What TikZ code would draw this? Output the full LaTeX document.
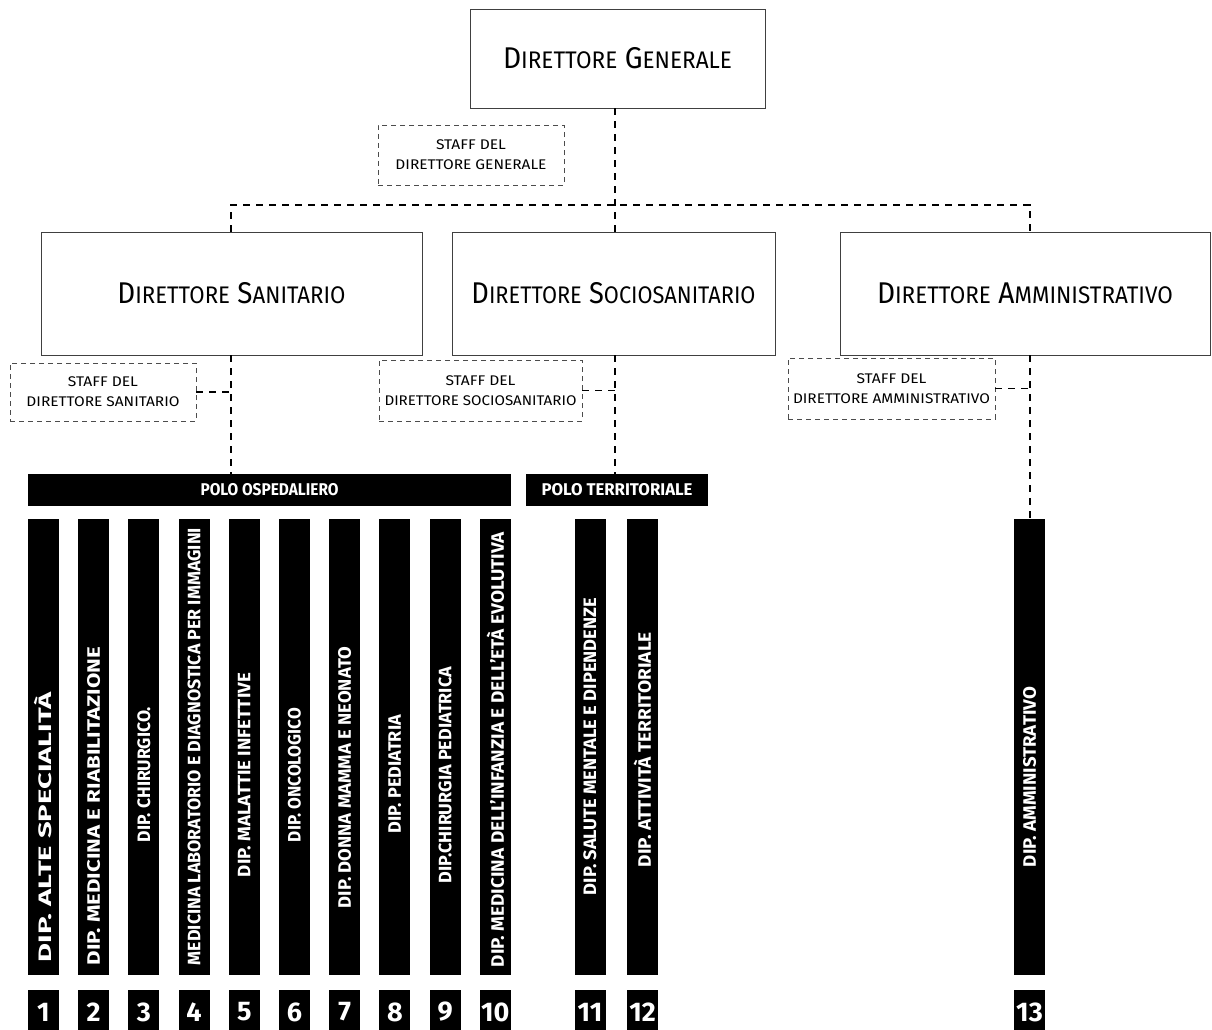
\documentclass[tikz,border=0pt]{standalone}
\usepackage{fontspec}
\setmainfont{Fira Sans}
\usepackage{graphicx}
\usetikzlibrary{calc}
\newcommand\fitto[2]{\resizebox{#1pt}{\height}{#2}}
\newcommand\smc[2]{{\fontsize{30}{30}\selectfont #1}{\fontsize{24}{24}\selectfont #2}}
\newcommand\tsp{\hspace{8pt}}
\begin{document}
\begin{tikzpicture}[x=1pt,y=-1pt,
  mainbox/.style={draw=black!75, line width=0.9pt, inner sep=0pt, minimum height=123pt},
  staffbox/.style={draw=black!70, line width=0.8pt, dash pattern=on 5pt off 4pt, inner sep=0pt,
     align=center, font=\fontsize{14}{20}\selectfont},
  conn/.style={draw=black, line width=1.3pt, dash pattern=on 7pt off 6pt},
  polo/.style={fill=black, inner sep=0pt, minimum height=32pt, text=white,
     font=\fontsize{17}{17}\selectfont\bfseries},
  bar/.style={fill=black, inner sep=0pt, minimum width=31pt, minimum height=456pt},
  bartxt/.style={text=white, inner sep=0pt, rotate=90, font=\fontsize{18}{18}\selectfont\bfseries},
  numbox/.style={fill=black, inner sep=0pt, minimum width=31pt, minimum height=44pt, text=white,
     font=\fontsize{27}{27}\selectfont\bfseries}]
\useasboundingbox[fill=white] (0,0) rectangle (1212,1030);

% top level
\node[mainbox, minimum width=295pt, minimum height=99pt] (dg) at (617.5,58.5)
  {\fitto{229}{\smc{D}{IRETTORE}\tsp\smc{G}{ENERALE}}};
\node[staffbox, minimum width=186pt, minimum height=60pt] (sdg) at (471,155)
  {\fitto{70}{STAFF DEL}\\\fitto{151}{DIRETTORE GENERALE}};

% directors
\node[mainbox, minimum width=381pt] (ds) at (231.5,293.5)
  {\fitto{228}{\smc{D}{IRETTORE}\tsp\smc{S}{ANITARIO}}};
\node[mainbox, minimum width=323pt] (dss) at (613.5,293.5)
  {\fitto{284}{\smc{D}{IRETTORE}\tsp\smc{S}{OCIOSANITARIO}}};
\node[mainbox, minimum width=370pt] (da) at (1025,293.5)
  {\fitto{296}{\smc{D}{IRETTORE}\tsp\smc{A}{MMINISTRATIVO}}};

% staff boxes
\node[staffbox, minimum width=186pt, minimum height=58pt] (sds) at (103,392)
  {\fitto{70}{STAFF DEL}\\\fitto{153}{DIRETTORE SANITARIO}};
\node[staffbox, minimum width=203pt, minimum height=61pt] (sdss) at (480.5,390.5)
  {\fitto{70}{STAFF DEL}\\\fitto{192}{DIRETTORE SOCIOSANITARIO}};
\node[staffbox, minimum width=207pt, minimum height=61pt] (sda) at (891.5,388.5)
  {\fitto{70}{STAFF DEL}\\\fitto{197}{DIRETTORE AMMINISTRATIVO}};

% poli
\node[polo, minimum width=483pt] (posp) at (269.5,490) {\fitto{138}{POLO OSPEDALIERO}};
\node[polo, minimum width=182pt] (pter) at (617,490) {\fitto{151}{POLO TERRITORIALE}};

% departments
\foreach \i/\L/\c/\t in {
  1/270/827/{DIP. ALTE SPECIALITÀ},
  2/318/806/{DIP. MEDICINA E RIABILITAZIONE},
  3/135/774.5/{DIP. CHIRURGICO.},
  4/437/746.5/{MEDICINA LABORATORIO E DIAGNOSTICA PER IMMAGINI},
  5/204/775/{DIP. MALATTIE INFETTIVE},
  6/134/775/{DIP. ONCOLOGICO},
  7/261/777.5/{DIP. DONNA MAMMA E NEONATO},
  8/118/774/{DIP. PEDIATRIA},
  9/216/775/{DIP.CHIRURGIA PEDIATRICA},
  10/435/749.5/{DIP. MEDICINA DELL'INFANZIA E DELL'ETÀ EVOLUTIVA}}{
  \pgfmathsetmacro\xx{43.5+50.2*(\i-1)}
  \node[bar] (b\i) at (\xx,747) {};
  \node[bartxt] (bt\i) at (\xx,\c) {\fitto{\L}{\t}};
  \node[numbox] (n\i) at (\xx,1012) {\i};
}
\foreach \i/\xx/\L/\c/\t in {
  11/590/297/746.5/{DIP. SALUTE MENTALE E DIPENDENZE},
  12/642.5/235/749.5/{DIP. ATTIVITÀ TERRITORIALE},
  13/1029.5/180/777/{DIP. AMMINISTRATIVO}}{
  \node[bar] (b\i) at (\xx,747) {};
  \node[bartxt] (bt\i) at (\xx,\c) {\fitto{\L}{\t}};
  \node[numbox] (n\i) at (\xx,1012) {\i};
}

% connectors
\coordinate (hl) at (0,205);
\coordinate (ta) at (231,0);
\coordinate (tb) at (615,0);
\coordinate (tc) at (1030,0);
\draw[conn] (dg.south -| tb) -- (dss.north -| tb);
\draw[conn] (ds.north -| ta) -- (ta |- hl) -- (tc |- hl) -- (da.north -| tc);
\draw[conn] (ds.south -| ta) -- (posp.north -| ta);
\draw[conn] (dss.south -| tb) -- (pter.north -| tb);
\draw[conn] (da.south -| tc) -- (b13.north -| tc);
\draw[conn] (sds.east) -- (sds.east -| ta);
\draw[conn] (sdss.east) -- (sdss.east -| tb);
\draw[conn] (sda.east) -- (sda.east -| tc);
\end{tikzpicture}
\end{document}
